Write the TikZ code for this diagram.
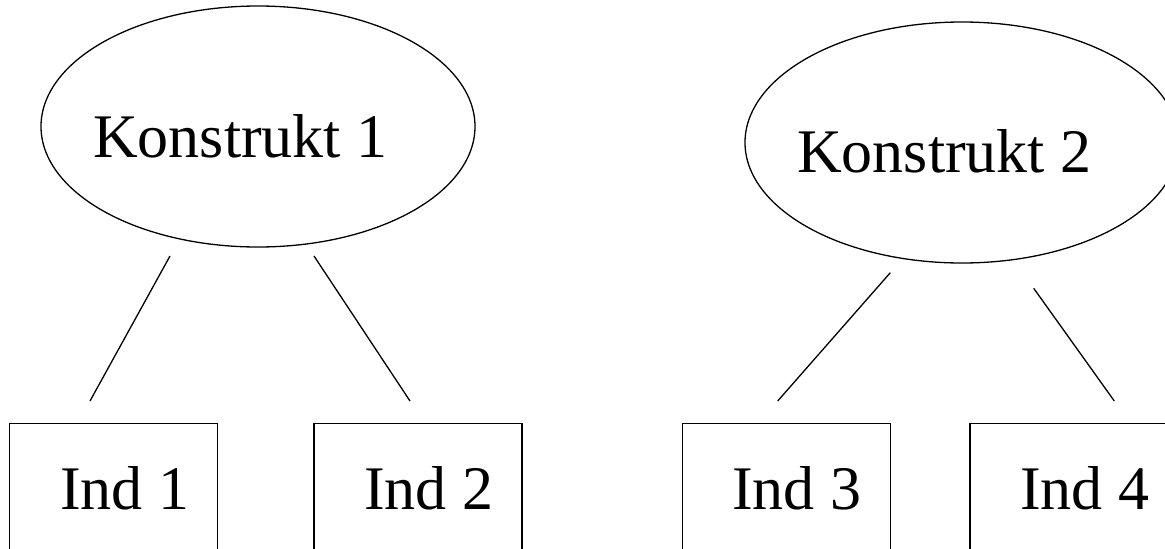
\documentclass[tikz,border=0pt]{standalone}
\usepackage{fontspec}
\setmainfont{Liberation Serif}
\usetikzlibrary{shapes.geometric}
\tikzset{
  ell/.style={draw, ellipse, line width=1.3pt, inner sep=0pt, minimum width=434pt, minimum height=241pt},
  indbox/.style={draw, rectangle, line width=1.3pt, inner sep=0pt, minimum width=208pt, minimum height=140pt, anchor=north west},
  lbl/.style={inner sep=0pt, anchor=base west, font=\fontsize{62}{70}\selectfont},
  conn/.style={line width=1.3pt}
}
\begin{document}
\begin{tikzpicture}[x=1pt,y=-1pt]
\useasboundingbox (0,0) rectangle (1165,549);
\clip (0,0) rectangle (1165,549);
% constructs
\node[ell] (k1) at (258,126.5) {};
\node[ell] (k2) at (962,142.5) {};
\node[lbl] (k1t) at (93,157) {Konstrukt 1};
\node[lbl] (k2t) at (797,172.7) {Konstrukt 2};
% indicators
\node[indbox] (i1) at (9,422.7) {};
\node[indbox] (i2) at (313.3,422.7) {};
\node[indbox] (i3) at (681.7,422.7) {};
\node[indbox] (i4) at (969.3,422.7) {};
\node[lbl] (i1t) at (60,509) {Ind 1};
\node[lbl] (i2t) at (364,509) {Ind 2};
\node[lbl] (i3t) at (732,509) {Ind 3};
\node[lbl] (i4t) at (1020,509) {Ind 4};
% connector ends
\coordinate (a1) at (170,256);
\coordinate (a2) at (90,401);
\coordinate (b1) at (314,256);
\coordinate (b2) at (410,401);
\coordinate (c1) at (890.3,272.7);
\coordinate (c2) at (777.7,401);
\coordinate (d1) at (1033.7,288.3);
\coordinate (d2) at (1114.3,401);
\draw[conn] (a1) -- (a2);
\draw[conn] (b1) -- (b2);
\draw[conn] (c1) -- (c2);
\draw[conn] (d1) -- (d2);
\end{tikzpicture}
\end{document}
